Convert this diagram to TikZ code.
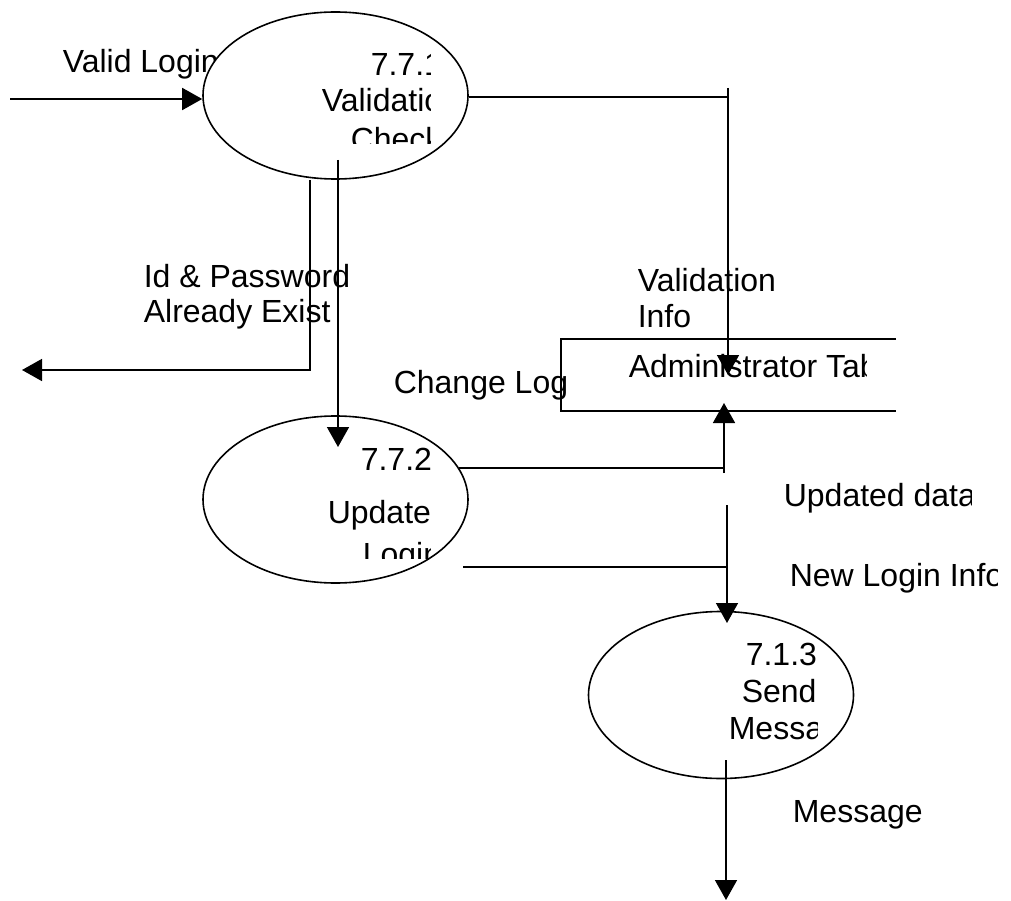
\documentclass[tikz,border=0pt]{standalone}
\usepackage{fontspec}
\setmainfont{Liberation Sans}
\usetikzlibrary{arrows.meta,shapes.geometric}

\begin{document}
\begin{tikzpicture}[x=1pt,y=-1pt,line width=1.6pt,
	flow/.style={-{Triangle[length=20pt,width=22pt]}},
	process/.style={draw,ellipse,fill=white,minimum width=265pt,minimum height=167pt,inner sep=0pt},
	lbl/.style={anchor=base west,inner sep=0pt,font=\fontsize{32pt}{36pt}\selectfont}]
	\useasboundingbox (0,0) rectangle (1011,901);

	\node[lbl] (validlogin) at (62,73) {Valid Login};   % hidden in part by the bubble

	% process bubbles
	\node[process] (check) at (335.5,95.5) {};
	\node[process] (update) at (335.5,499.5) {};
	\node[process] (send) at (721,695) {};

	% bubble texts, cut at the text frame
	\begin{scope}
	  \clip (203,0) rectangle (430,144);
	  \node[lbl] (checkno) at (370,76) {7.7.1};
	  \node[lbl] (checka) at (321,112) {Validation};
	  \node[lbl] (checkb) at (350,151) {Check};
	\end{scope}
	\begin{scope}
	  \clip (203,416) rectangle (430,558);
	  \node[lbl] (updateno) at (360,470) {7.7.2};
	  \node[lbl] (updatea) at (327,523) {Update};
	  \node[lbl] (updateb) at (362,565) {Login};
	\end{scope}
	\begin{scope}
	  \clip (589,611) rectangle (817,779);
	  \node[lbl] (sendno) at (745,665) {7.1.3};
	  \node[lbl] (senda) at (741,702) {Send};
	  \node[lbl] (sendb) at (728,739) {Message};
	\end{scope}

	% data store
	\draw (896,339) -- (561,339) -- (561,411) -- (896,411);
	\begin{scope}
	  \clip (561,339) rectangle (866,411);
	  \node[lbl] (store) at (628,377) {Administrator Table};
	\end{scope}

	% flow labels
	\node[lbl] (existA) at (143,287) {Id \& Password};
	\node[lbl] (existB) at (143,322) {Already Exist};
	\node[lbl] (valinfoA) at (637,291) {Validation};
	\node[lbl] (valinfoB) at (637,327) {Info};
	\begin{scope}
	  \clip (300,340) rectangle (566,420);
	  \node[lbl] (changelog) at (393,393) {Change Log};
	\end{scope}
	\begin{scope}
	  \clip (760,460) rectangle (971,530);
	  \node[lbl] (updated) at (783,506) {Updated data};
	\end{scope}
	\begin{scope}
	  \clip (760,540) rectangle (997,610);
	  \node[lbl] (newlogin) at (789,586) {New Login Info};
	\end{scope}
	\node[lbl] (message) at (792,822) {Message};

	% connectors
	\coordinate (login in) at (10,99);
	\coordinate (valinfo) at (728,97);
	\coordinate (valtop) at (728,88);
	\coordinate (store in) at (728,375);
	\coordinate (exist bend) at (310,370);
	\coordinate (exist out) at (22,370);
	\coordinate (chk down) at (338,160);
	\coordinate (upd in) at (338,447);
	\coordinate (chg from) at (459,468);
	\coordinate (chg bend) at (724,468);
	\coordinate (chg corner) at (724,473);
	\coordinate (store up) at (724,403);
	\coordinate (login from) at (463,567);
	\coordinate (login corner) at (727,567);
	\coordinate (login top) at (727,505);
	\coordinate (send in) at (727,623);
	\coordinate (msg from) at (726,760);
	\coordinate (msg out) at (726,900);

	\draw[flow] (login in) -- (login in -| check.west);
	\draw (check.east |- valinfo) -- (valinfo);
	\draw[flow] (valtop) -- (store in);
	\draw[flow] (exist bend |- check.south) -- (exist bend) -- (exist out);
	\draw[flow] (chk down) -- (upd in);
	\draw (chg from) -- (chg bend);
	\draw[flow] (chg corner) -- (store up);
	\draw (login from) -- (login corner);
	\draw[flow] (login top) -- (send in);
	\draw[flow] (msg from) -- (msg out);
\end{tikzpicture}
\end{document}
